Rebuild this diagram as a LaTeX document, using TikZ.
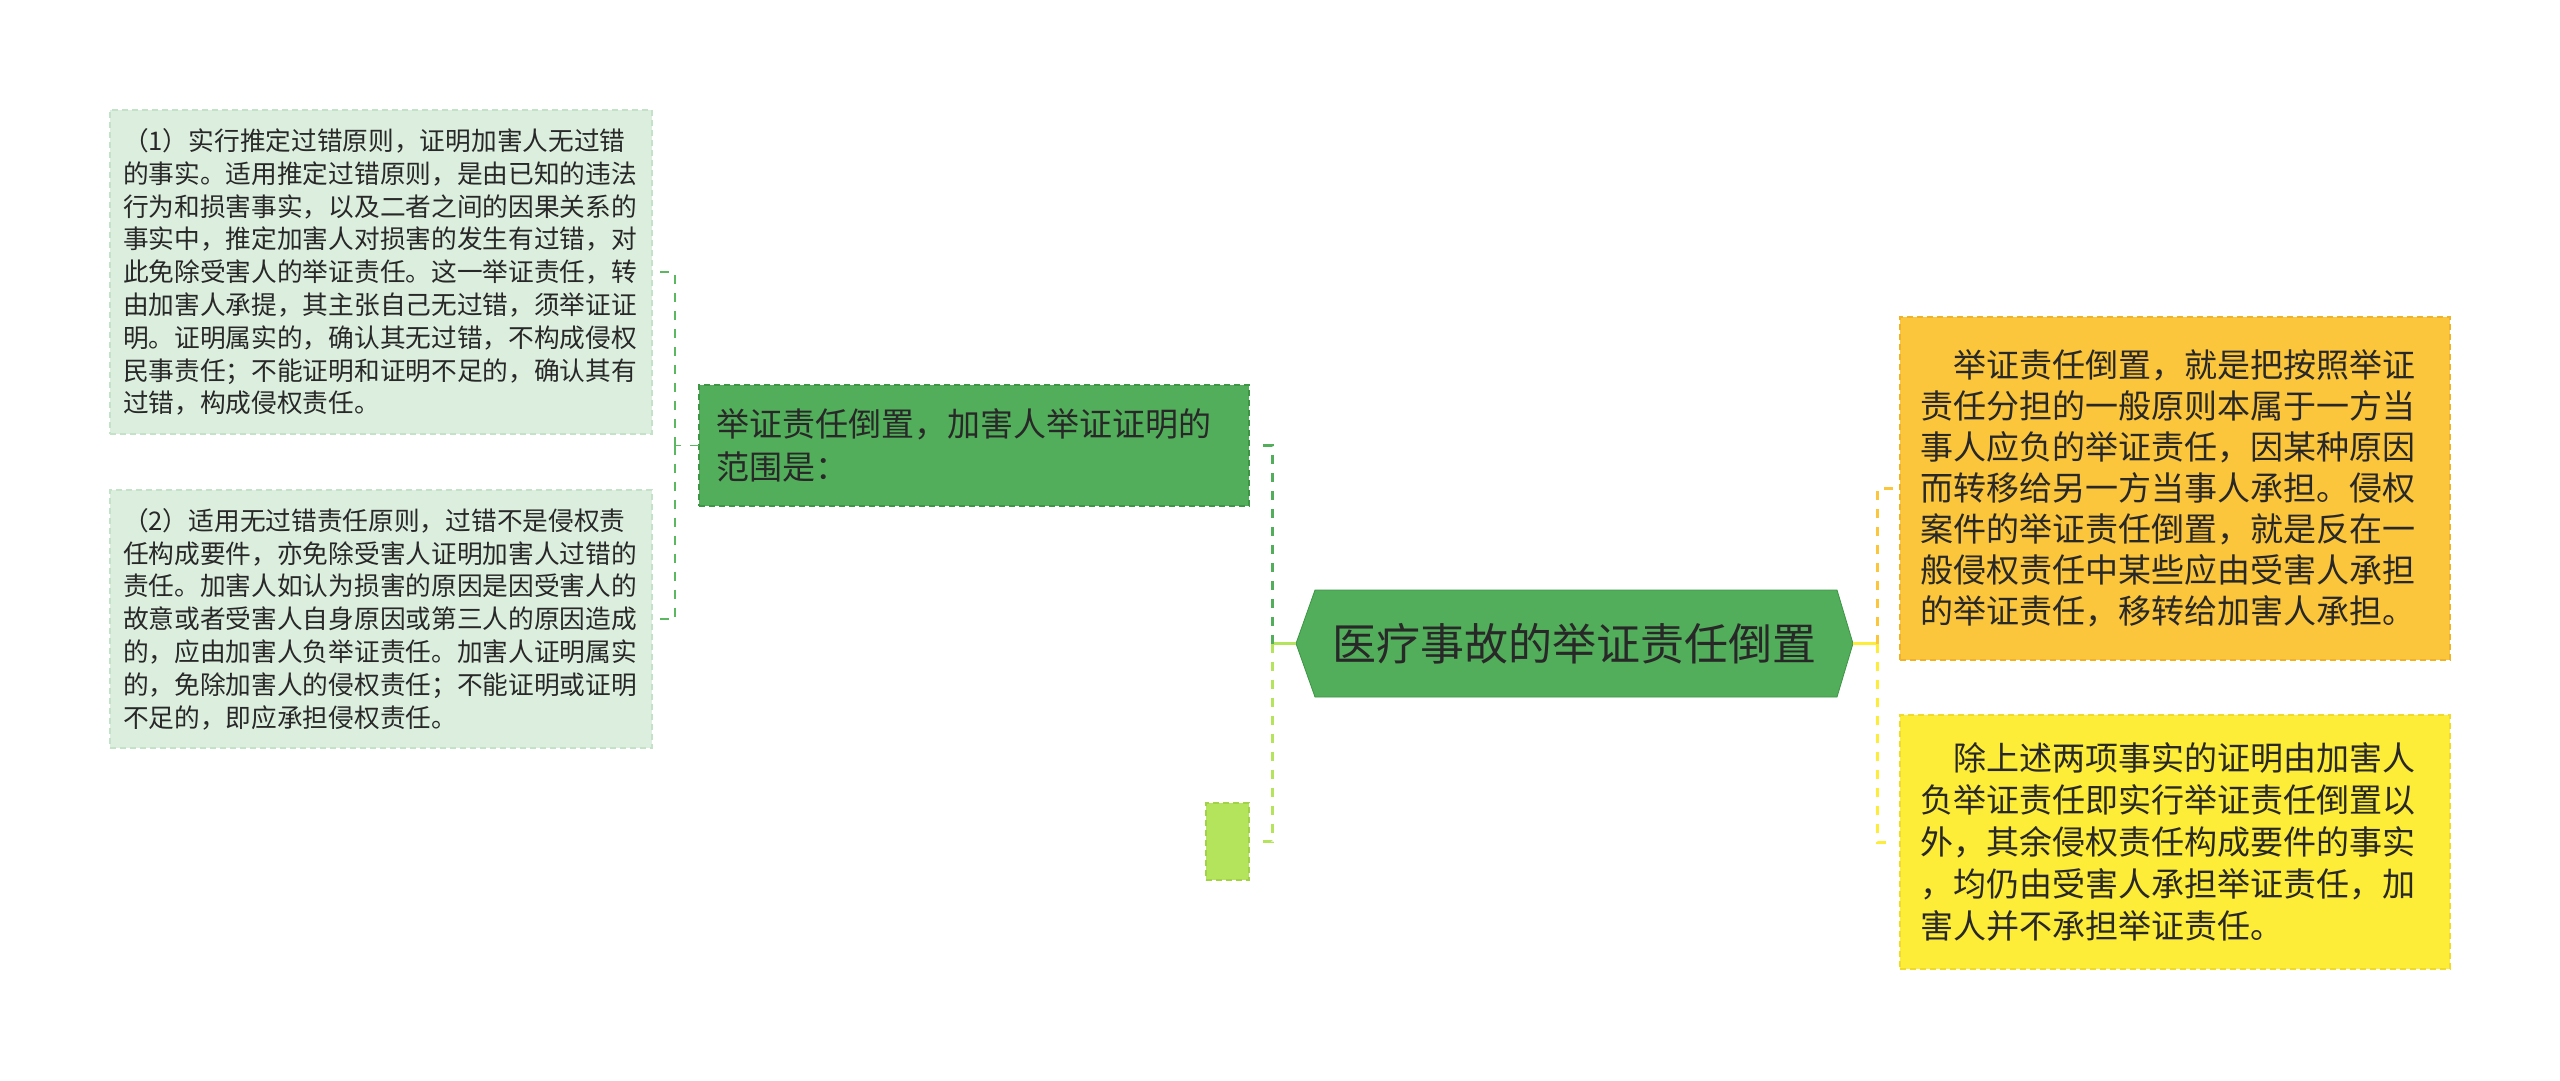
\documentclass[tikz,border=0pt]{standalone}
\usepackage{fontspec}
\setmainfont{Noto Sans CJK SC}
\usetikzlibrary{backgrounds}
\definecolor{leftfill}{RGB}{220,239,222}
\definecolor{leftedge}{RGB}{196,226,199}
\definecolor{midgreen}{RGB}{82,174,90}
\definecolor{midedge}{RGB}{60,150,68}
\definecolor{lime}{RGB}{180,227,92}
\definecolor{limeedge}{RGB}{160,212,70}
\definecolor{amber}{RGB}{251,198,60}
\definecolor{amberedge}{RGB}{240,178,40}
\definecolor{yel}{RGB}{253,236,56}
\definecolor{yeledge}{RGB}{240,220,40}
\definecolor{txt}{RGB}{40,40,40}
\definecolor{lconncol}{RGB}{92,184,96}
\tikzset{
  box/.style={anchor=north west, outer sep=0pt, inner ysep=0pt, align=left, text=txt, dash pattern=on 6pt off 4pt, line width=1.2pt},
  leftbox/.style={box, fill=leftfill, draw=leftedge, minimum width=542, inner xsep=13, text width=516,
    font=\fontsize{25.7}{32.8}\selectfont},
  midbox/.style={box, fill=midgreen, draw=midedge, minimum width=550, minimum height=121, inner xsep=17, text width=516,
    font=\fontsize{33}{43}\selectfont},
  smallbox/.style={box, fill=lime, draw=limeedge, minimum width=43, minimum height=77, inner xsep=0},
  rightbox/.style={box, minimum width=550, inner xsep=20, text width=510},
  rootnode/.style={outer sep=0pt, inner sep=0pt, minimum width=557, minimum height=107, text=txt,
    font=\fontsize{44}{52}\selectfont},
  lconn/.style={draw=lconncol, line width=1.8pt, dash pattern=on 9pt off 9pt},
  conn/.style={line width=3pt, dash pattern=on 9pt off 9pt},
}
\begin{document}
\begin{tikzpicture}[x=1pt,y=-1pt]
\useasboundingbox (0,0) rectangle (2560,1080);

\node[leftbox, minimum height=324] (b1) at (110,110) {%
（1）实行推定过错原则，证明加害人无过错\\
的事实。适用推定过错原则，是由已知的违法\\
行为和损害事实，以及二者之间的因果关系的\\
事实中，推定加害人对损害的发生有过错，对\\
此免除受害人的举证责任。这一举证责任，转\\
由加害人承提，其主张自己无过错，须举证证\\
明。证明属实的，确认其无过错，不构成侵权\\
民事责任；不能证明和证明不足的，确认其有\\
过错，构成侵权责任。};

\node[leftbox, minimum height=258] (b2) at (110,490) {%
（2）适用无过错责任原则，过错不是侵权责\\
任构成要件，亦免除受害人证明加害人过错的\\
责任。加害人如认为损害的原因是因受害人的\\
故意或者受害人自身原因或第三人的原因造成\\
的，应由加害人负举证责任。加害人证明属实\\
的，免除加害人的侵权责任；不能证明或证明\\
不足的，即应承担侵权责任。};

\node[midbox] (mid) at (699,385) {举证责任倒置，加害人举证证明的\\范围是：};

\node[smallbox] (small) at (1206,803) {};

\node[rootnode] (root) at (1574.5,643.5) {医疗事故的举证责任倒置};

\node[rightbox, fill=amber, draw=amberedge, minimum height=343, font=\fontsize{33}{41}\selectfont] (r1) at (1900,317) {%
\hspace*{1em}举证责任倒置，就是把按照举证\\
责任分担的一般原则本属于一方当\\
事人应负的举证责任，因某种原因\\
而转移给另一方当事人承担。侵权\\
案件的举证责任倒置，就是反在一\\
般侵权责任中某些应由受害人承担\\
的举证责任，移转给加害人承担。};

\node[rightbox, fill=yel, draw=yeledge, minimum height=254, font=\fontsize{33}{42}\selectfont] (r2) at (1900,715) {%
\hspace*{1em}除上述两项事实的证明由加害人\\
负举证责任即实行举证责任倒置以\\
外，其余侵权责任构成要件的事实\\
，均仍由受害人承担举证责任，加\\
害人并不承担举证责任。};

\begin{pgfonlayer}{background}
\fill[white] (0,0) rectangle (2560,1080);
\filldraw[fill=midgreen, draw=midedge, line width=0.8pt]
  (root.west) -- ([xshift=19]root.north west) -- ([xshift=-16]root.north east) -- (root.east)
  -- ([xshift=-16]root.south east) -- ([xshift=19]root.south west) -- cycle;
\end{pgfonlayer}

% left bracket
\draw[lconn] (mid.west) -- ++(-24,0) coordinate (lj);
\draw[lconn] (lj) |- ([xshift=5]b1.east);
\draw[lconn] (lj) |- ([xshift=5]b2.east);

% center-left branch
\draw[conn, draw=lime, solid] (root.west) -- ++(-24,0) coordinate (cj);
\draw[conn, draw=midgreen] (cj) |- ([xshift=10]mid.east);
\draw[conn, draw=lime] (cj) |- ([xshift=10]small.east);

% right branch
\draw[conn, draw=yel, solid] (root.east) -- ++(24,0) coordinate (rj);
\draw[conn, draw=amber] (rj) |- ([xshift=-3]r1.west);
\draw[conn, draw=yel] (rj) |- ([xshift=-11]r2.west);
\end{tikzpicture}
\end{document}
